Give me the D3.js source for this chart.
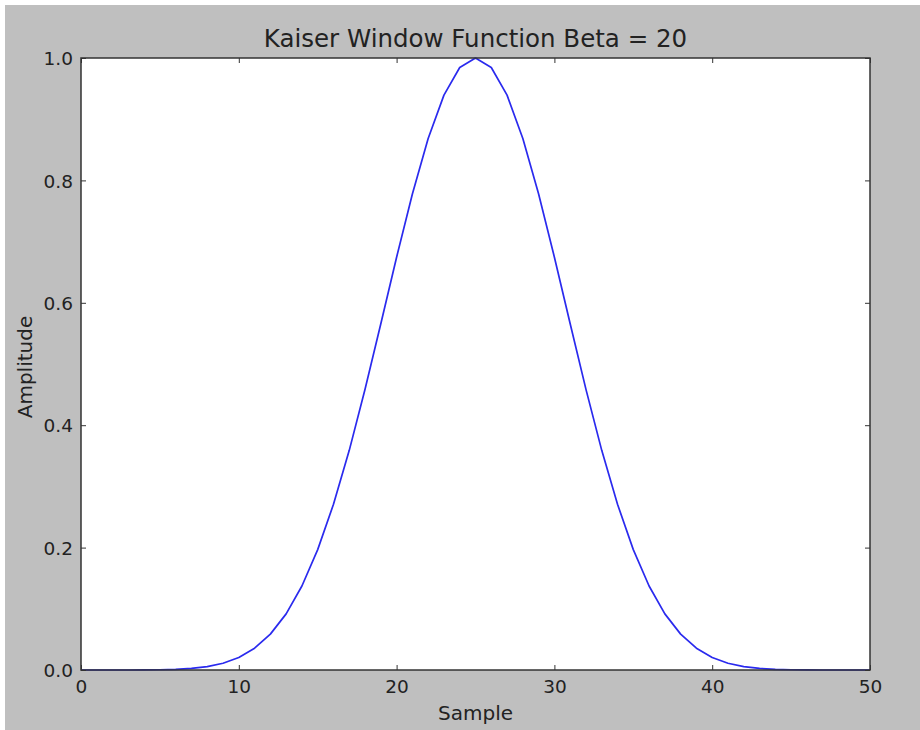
<!DOCTYPE html>
<html><head><meta charset="utf-8">
<script src="https://cdn.jsdelivr.net/npm/d3@7"></script>
<style>html,body{margin:0;padding:0;background:#fff;}svg{display:block;font-family:"DejaVu Sans",sans-serif;}</style>
</head><body>
<script>
const samples = d3.range(0, 51);
const amplitude = [
  0.0000, 0.0000, 0.0000, 0.0000, 0.0001, 0.0004, 0.0011, 0.0026, 0.0056, 0.0111,
  0.0205, 0.0356, 0.0586, 0.0917, 0.1372, 0.1967, 0.2708, 0.3589, 0.4586, 0.5657,
  0.6745, 0.7779, 0.8686, 0.9394, 0.9845, 1.0000, 0.9845, 0.9394, 0.8686, 0.7779,
  0.6745, 0.5657, 0.4586, 0.3589, 0.2708, 0.1967, 0.1372, 0.0917, 0.0586, 0.0356,
  0.0205, 0.0111, 0.0056, 0.0026, 0.0011, 0.0004, 0.0001, 0.0000, 0.0000, 0.0000, 0.0000
];
const xTicks = [0, 10, 20, 30, 40, 50];
const yTicks = [0.0, 0.2, 0.4, 0.6, 0.8, 1.0];
const titleText = "Kaiser Window Function Beta = 20";
const xLabel = "Sample";
const yLabel = "Amplitude";

const W = 920, H = 730;
const L = 81, R = 870, T = 58, B = 670;
const svg = d3.select("body").append("svg").attr("width", W).attr("height", H);
svg.append("rect").attr("x", 5).attr("y", 5).attr("width", W - 5).attr("height", H - 5).attr("fill", "#bfbfbf");
svg.append("rect").attr("x", L).attr("y", T).attr("width", R - L).attr("height", B - T).attr("fill", "#fff");

const x = d3.scaleLinear().domain([0, 50]).range([L, R]);
const y = d3.scaleLinear().domain([0, 1]).range([B, T]);

const data = samples.map((s, i) => [s, amplitude[i]]);
svg.append("path").datum(data)
  .attr("fill", "none").attr("stroke", "#2a2aee").attr("stroke-width", 1.7)
  .attr("stroke-linejoin", "round")
  .attr("d", d3.line().x(d => x(d[0])).y(d => y(d[1])));

const fs = 18.5;
const xb = svg.append("g").attr("transform", `translate(0,${B})`)
  .call(d3.axisBottom(x).tickValues(xTicks).tickSize(-5).tickPadding(10).tickFormat(d3.format("d")));
const xt = svg.append("g").attr("transform", `translate(0,${T})`)
  .call(d3.axisTop(x).tickValues(xTicks).tickSize(-5).tickFormat(""));
const yl = svg.append("g").attr("transform", `translate(${L},0)`)
  .call(d3.axisLeft(y).tickValues(yTicks).tickSize(-5).tickPadding(8).tickFormat(d3.format(".1f")));
const yr = svg.append("g").attr("transform", `translate(${R},0)`)
  .call(d3.axisRight(y).tickValues(yTicks).tickSize(-5).tickFormat(""));
[xb, xt, yl, yr].forEach(g => {
  g.select(".domain").remove();
  g.selectAll(".tick line").attr("stroke", "#333").attr("stroke-width", 1);
  g.selectAll("text").attr("font-size", fs).attr("fill", "#222").attr("font-family", "DejaVu Sans");
});
xb.selectAll("text").attr("y", 23).attr("dy", 0);
yl.selectAll("text").attr("x", -8).attr("dy", "0.36em");

svg.append("rect").attr("x", L).attr("y", T).attr("width", R - L).attr("height", B - T)
  .attr("fill", "none").attr("stroke", "#333").attr("stroke-width", 1.5);

svg.append("text").attr("x", (L + R) / 2).attr("y", 47).attr("text-anchor", "middle")
  .attr("font-size", 24.5).attr("fill", "#222").text(titleText);
svg.append("text").attr("x", (L + R) / 2).attr("y", 720).attr("text-anchor", "middle")
  .attr("font-size", 20).attr("fill", "#222").text(xLabel);
svg.append("text").attr("transform", `translate(32,${(T + B) / 2 + 3}) rotate(-90)`).attr("text-anchor", "middle")
  .attr("font-size", 20).attr("fill", "#222").text(yLabel);
</script>
</body></html>
